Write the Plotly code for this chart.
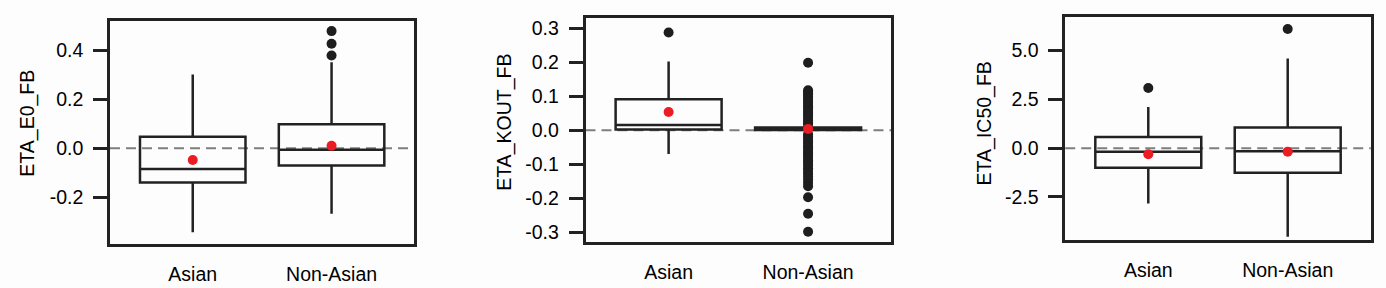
import plotly.graph_objects as go

# ---------------- data ----------------
categories = ["Asian", "Non-Asian"]

# ETA_E0_FB
e0_q1 = [-0.1405, -0.071]
e0_median = [-0.085, -0.006]
e0_q3 = [0.047, 0.0985]
e0_lower = [-0.344, -0.269]
e0_upper = [0.302, 0.352]
e0_mean = [-0.048, 0.010]
e0_out_asian = []
e0_out_nonasian = [0.480, 0.4285, 0.380]

# ETA_KOUT_FB
kout_q1 = [0.0026, 0.0005]
kout_median = [0.0152, 0.004]
kout_q3 = [0.0913, 0.0078]
kout_lower = [-0.0697, 0.0005]
kout_upper = [0.2025, 0.0078]
kout_mean = [0.054, 0.004]
kout_out_asian = [0.288]
kout_out_nonasian = [0.199, 0.118, 0.112, 0.106, 0.099, 0.092, 0.085, 0.078,
                     0.071, 0.064, 0.057, 0.050, 0.043, 0.036, 0.029, 0.022,
                     0.016, -0.012, -0.019, -0.026, -0.033, -0.040, -0.047,
                     -0.054, -0.061, -0.068, -0.075, -0.082, -0.089, -0.096,
                     -0.104, -0.112, -0.120, -0.128, -0.136, -0.145, -0.155,
                     -0.165, -0.197, -0.246, -0.299]

# ETA_IC50_FB
ic50_q1 = [-1.008, -1.263]
ic50_median = [-0.178, -0.158]
ic50_q3 = [0.57, 1.064]
ic50_lower = [-2.84, -4.537]
ic50_upper = [2.113, 4.593]
ic50_mean = [-0.31, -0.178]
ic50_out_asian = [3.08]
ic50_out_nonasian = [6.105]

# tick labels
e0_ticks = [-0.2, 0.0, 0.2, 0.4]
e0_ticktext = ["-0.2", "0.0", "0.2", "0.4"]
kout_ticks = [-0.3, -0.2, -0.1, 0.0, 0.1, 0.2, 0.3]
kout_ticktext = ["-0.3", "-0.2", "-0.1", "0.0", "0.1", "0.2", "0.3"]
ic50_ticks = [-2.5, 0.0, 2.5, 5.0]
ic50_ticktext = ["-2.5", "0.0", "2.5", "5.0"]

titles = ["ETA_E0_FB", "ETA_KOUT_FB", "ETA_IC50_FB"]

# ---------------- styling ----------------
W, H = 1386, 288
LINE = "#222222"
DOT = "#1e1e1e"
RED = "#ec1c24"
BG = "#fdfdfd"
FONT = "Liberation Sans, Arial, sans-serif"
FS = 19.5
TXT = "#000000"

panels = [
    dict(q1=e0_q1, med=e0_median, q3=e0_q3, lo=e0_lower, hi=e0_upper,
         mean=e0_mean, outs=[e0_out_asian, e0_out_nonasian],
         ticks=e0_ticks, ticktext=e0_ticktext, yrange=[-0.391, 0.522],
         xpx=(110, 414.3), ypx=(20, 244.3), title_px=(27.5, 123)),
    dict(q1=kout_q1, med=kout_median, q3=kout_q3, lo=kout_lower, hi=kout_upper,
         mean=kout_mean, outs=[kout_out_asian, kout_out_nonasian],
         ticks=kout_ticks, ticktext=kout_ticktext, yrange=[-0.329, 0.330],
         xpx=(585.5, 891.2), ypx=(17.3, 242.7), title_px=(504.2, 122.5)),
    dict(q1=ic50_q1, med=ic50_median, q3=ic50_q3, lo=ic50_lower, hi=ic50_upper,
         mean=ic50_mean, outs=[ic50_out_asian, ic50_out_nonasian],
         ticks=ic50_ticks, ticktext=ic50_ticktext, yrange=[-4.71, 6.73],
         xpx=(1065.2, 1370.8), ypx=(16, 240.7), title_px=(984, 123.3)),
]

fig = go.Figure()
layout = dict(
    width=W, height=H, autosize=False,
    margin=dict(l=0, r=0, t=0, b=0),
    paper_bgcolor=BG, plot_bgcolor=BG,
    showlegend=False,
    font=dict(family=FONT, size=FS, color=TXT),
    shapes=[], annotations=[],
)

for i, p in enumerate(panels):
    n = "" if i == 0 else str(i + 1)
    xa, ya = "x" + n, "y" + n
    xs = [0, 1]
    fig.add_trace(go.Box(
        x=xs, q1=p["q1"], median=p["med"], q3=p["q3"],
        lowerfence=p["lo"], upperfence=p["hi"],
        width=0.76, whiskerwidth=0, boxpoints=False,
        line=dict(color=LINE, width=2.5), fillcolor="rgba(0,0,0,0)",
        xaxis=xa, yaxis=ya, hoverinfo="skip"))
    for ci, outs in enumerate(p["outs"]):
        if outs:
            fig.add_trace(go.Scatter(
                x=[ci] * len(outs), y=outs, mode="markers",
                marker=dict(color=DOT, size=10, line=dict(width=0)),
                xaxis=xa, yaxis=ya, hoverinfo="skip"))
    fig.add_trace(go.Scatter(
        x=xs, y=p["mean"], mode="markers",
        marker=dict(color=RED, size=10, line=dict(width=0)),
        xaxis=xa, yaxis=ya, hoverinfo="skip"))

    x0, x1 = p["xpx"]
    y0, y1 = p["ypx"]
    layout["xaxis" + n] = dict(
        domain=[x0 / W, x1 / W], anchor=ya, range=[-0.596, 1.596],
        tickmode="array", tickvals=xs, ticktext=categories,
        ticks="", showgrid=False, zeroline=False,
        showline=True, mirror=True, linecolor=LINE, linewidth=2.5,
        ticklabelstandoff=11, fixedrange=True)
    layout["yaxis" + n] = dict(
        domain=[1 - y1 / H, 1 - y0 / H], anchor=xa, range=p["yrange"],
        tickmode="array", tickvals=p["ticks"], ticktext=p["ticktext"],
        ticks="outside", ticklen=14, tickwidth=2.5, tickcolor=LINE,
        showgrid=False, zeroline=False,
        showline=True, mirror=True, linecolor=LINE, linewidth=2.5,
        ticklabelstandoff=6, fixedrange=True)
    layout["shapes"].append(dict(
        type="line", xref=xa + " domain", yref=ya, x0=0, x1=1, y0=0, y1=0,
        line=dict(color="#7f7f7f", width=2, dash="10px,6px"), layer="below"))
    tx, ty = p["title_px"]
    layout["annotations"].append(dict(
        text=titles[i], xref="paper", yref="paper",
        x=tx / W, y=1 - ty / H, xanchor="center", yanchor="middle",
        textangle=-90, showarrow=False, font=dict(family=FONT, size=FS, color=TXT)))

fig.update_layout(**layout)
fig.write_html("out.html")
